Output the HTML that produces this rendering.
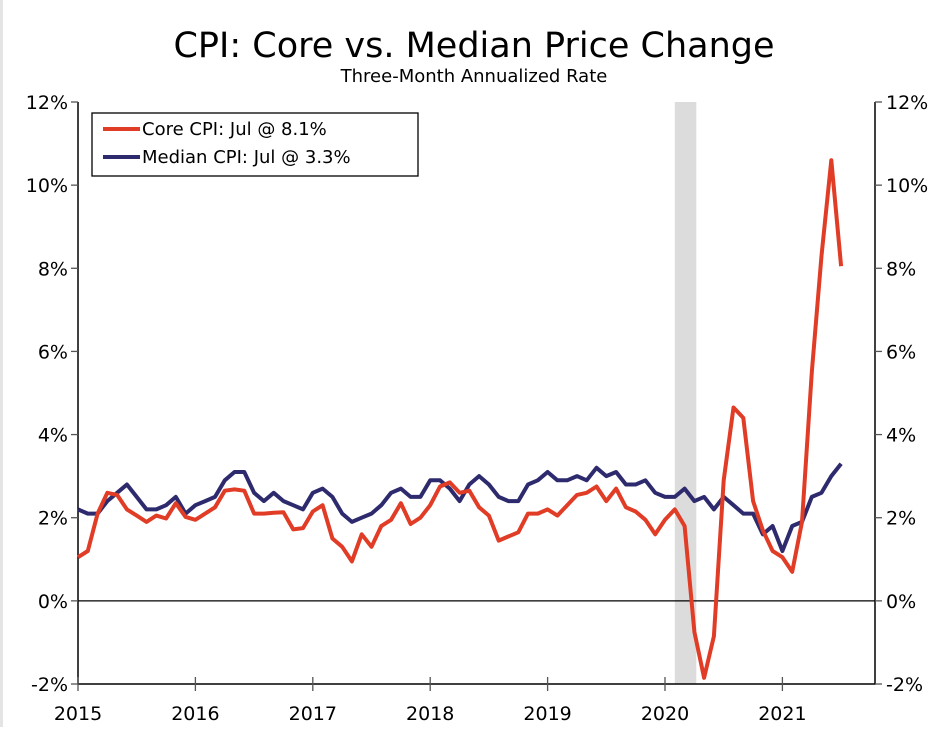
<!DOCTYPE html>
<html><head><meta charset="utf-8"><style>
body{margin:0;background:#fff;font-family:"DejaVu Sans","Liberation Sans",sans-serif}
svg text{font-family:"DejaVu Sans","Liberation Sans",sans-serif;fill:#000}
</style></head><body>
<svg id="c" width="947" height="727">
<rect x="0" y="0" width="3" height="727" fill="#e4e4e4"/>
<text x="474" y="57" text-anchor="middle" font-size="35">CPI: Core vs. Median Price Change</text>
<text x="474" y="82" text-anchor="middle" font-size="18">Three-Month Annualized Rate</text>
<g id="g"></g>
</svg>
<script>
const years=["2015","2016","2017","2018","2019","2020","2021"];
const yTicks=[-2,0,2,4,6,8,10,12];
const recession=[2020+1/12,2020+3.2/12];
const core=[1.05,1.2,2.1,2.6,2.55,2.2,2.05,1.9,2.05,1.98,2.35,2.02,
1.95,2.1,2.25,2.65,2.68,2.65,2.1,2.1,2.12,2.13,1.72,1.75,
2.15,2.3,1.5,1.3,0.95,1.6,1.3,1.8,1.95,2.35,1.85,2.0,
2.3,2.75,2.85,2.6,2.65,2.25,2.05,1.45,1.55,1.65,2.1,2.1,
2.2,2.05,2.3,2.55,2.6,2.75,2.4,2.7,2.25,2.15,1.95,1.6,
1.95,2.2,1.8,-0.75,-1.85,-0.85,2.9,4.65,4.4,2.4,1.7,1.2,
1.05,0.7,1.9,5.5,8.3,10.6,8.05];
const median=[2.2,2.1,2.1,2.4,2.6,2.8,2.5,2.2,2.2,2.3,2.5,2.1,
2.3,2.4,2.5,2.9,3.1,3.1,2.6,2.4,2.6,2.4,2.3,2.2,
2.6,2.7,2.5,2.1,1.9,2.0,2.1,2.3,2.6,2.7,2.5,2.5,
2.9,2.9,2.7,2.4,2.8,3.0,2.8,2.5,2.4,2.4,2.8,2.9,
3.1,2.9,2.9,3.0,2.9,3.2,3.0,3.1,2.8,2.8,2.9,2.6,
2.5,2.5,2.7,2.4,2.5,2.2,2.5,2.3,2.1,2.1,1.6,1.8,
1.2,1.8,1.9,2.5,2.6,3.0,3.3];
const X0=78,X1=875,Y0=684,Y1=102,PX=117.4;
const xs=t=>X0+(t-2015)*PX;
const ys=v=>Y0-(v+2)/14*(Y0-Y1);
const g=document.getElementById('g');
const NS='http://www.w3.org/2000/svg';
function mk(tag,at){const e=document.createElementNS(NS,tag);for(const k in at)e.setAttribute(k,at[k]);g.appendChild(e);return e;}
let r=mk('rect',{x:xs(recession[0]),y:Y1,width:xs(recession[1])-xs(recession[0]),height:Y0-Y1,fill:'#dcdcdc'});


let z=mk('line',{x1:X0,x2:X1,y1:ys(0),y2:ys(0),stroke:'#000','stroke-width':1.3});


let ax=mk('path',{d:`M${X0} ${Y1}V${Y0}H${X1}V${Y1}`,fill:'none',stroke:'#000','stroke-width':1.5});


yTicks.forEach(v=>{
 const y=ys(v);
 mk('line',{x1:X0-7,x2:X0,y1:y,y2:y,stroke:'#555','stroke-width':1.3});
 mk('line',{x1:X1,x2:X1+7,y1:y,y2:y,stroke:'#555','stroke-width':1.3});
 let t=mk('text',{x:X0-10,y:y+7,'text-anchor':'end','font-size':19});t.textContent=v+'%';
 
 
 let t2=mk('text',{x:X1+11,y:y+7,'font-size':19});t2.textContent=v+'%';
 
 
});
years.forEach(yr=>{
 const x=xs(+yr);
 mk('line',{x1:x,x2:x,y1:Y0-7,y2:Y0+7,stroke:'#555','stroke-width':1.3});
 let t=mk('text',{x:x,y:Y0+36,'text-anchor':'middle','font-size':19});t.textContent=yr;
 
 
});
function line(arr,col,name){
 const d=arr.map((v,i)=>(i?'L':'M')+xs(2015+i/12).toFixed(1)+' '+ys(v).toFixed(1)).join('');
 let p=mk('path',{d:d,fill:'none',stroke:col,'stroke-width':4,'stroke-linejoin':'round'});
 
 
}
line(median,'#2e2a6e','median-cpi-line');
line(core,'#e03c26','core-cpi-line');
let lb=mk('rect',{x:92,y:113,width:326,height:63,fill:'#fff',stroke:'#000','stroke-width':1.3});


[['Core CPI: Jul @ 8.1%','#e03c26',135],['Median CPI: Jul @ 3.3%','#2e2a6e',163]].forEach(([s,c,y],i)=>{
 mk('line',{x1:103,x2:140,y1:y-6,y2:y-6,stroke:c,'stroke-width':4});
 let t=mk('text',{x:142,y:y,'font-size':18});t.textContent=s;
 
 
});
</script>
</body></html>
